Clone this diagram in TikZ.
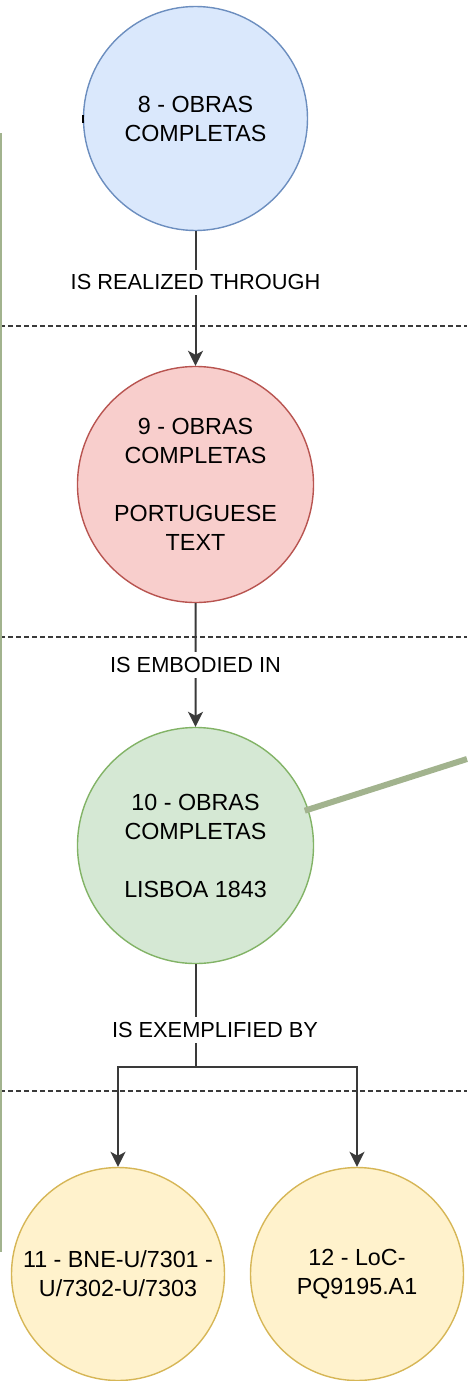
\documentclass[tikz,border=0pt]{standalone}
\usepackage{fontspec}
\setmainfont{Liberation Sans}
\usetikzlibrary{arrows.meta,trees}
\definecolor{workfill}{HTML}{DAE8FC}
\definecolor{workdraw}{HTML}{6C8EBF}
\definecolor{exprfill}{HTML}{F8CECC}
\definecolor{exprdraw}{HTML}{B85450}
\definecolor{manifill}{HTML}{D5E8D4}
\definecolor{manidraw}{HTML}{82B366}
\definecolor{itemfill}{HTML}{FFF2CC}
\definecolor{itemdraw}{HTML}{D6B656}
\definecolor{notegreen}{HTML}{A2B38E}
\definecolor{linegray}{HTML}{3A3A3A}
\begin{document}
\begin{tikzpicture}[x=1pt,y=-1pt,
				entity/.style={circle,draw,line width=1.4pt,inner sep=0pt,align=center,font=\fontsize{23.3}{29}\selectfont},
				lbl/.style={fill=white,inner xsep=2pt,inner ysep=5pt,font=\fontsize{21.8}{26}\selectfont},
				sepline/.style={draw=linegray,line width=1.2pt,dash pattern=on 5pt off 3pt},
				note/.style={draw=notegreen,line width=6pt},
				edge from parent/.style={draw,draw=linegray,line width=2pt,-{Stealth[length=15pt,width=15pt,inset=4pt]}},
				level 1/.style={level distance=366pt},
				level 2/.style={level distance=361pt},
				level 3/.style={grow via three points={one child at (0pt,-428.5pt) and two children at (-77.5pt,-428.5pt) and (161.5pt,-428.5pt)},
					edge from parent path={(\tikzparentnode.south) -- +(0pt,-102.5pt) -| (\tikzchildnode.north)}}
]
\useasboundingbox (0,0) rectangle (467,1381);
% level separators
\draw[sepline] (0,326) -- (467,326);
\draw[sepline] (0,637) -- (467,637);
\draw[sepline] (0,1091) -- (467,1091);
\node[entity,fill=workfill,draw=workdraw,minimum size=224pt] (c8) at (195.5,118.5) {8 - OBRAS\\COMPLETAS}
child { node[entity,fill=exprfill,draw=exprdraw,minimum size=236pt] (c9) {9 - OBRAS\\COMPLETAS\\[29pt]PORTUGUESE\\TEXT}
	child { node[entity,fill=manifill,draw=manidraw,minimum size=236pt] (c10) {10 - OBRAS\\COMPLETAS\\[29pt]LISBOA 1843}
		child { node[entity,fill=itemfill,draw=itemdraw,minimum size=213pt] (c11) {11 - BNE-U/7301 -\\U/7302-U/7303} }
		child { node[entity,fill=itemfill,draw=itemdraw,minimum size=213pt] (c12) {12 - LoC-\\PQ9195.A1} }
		edge from parent node[lbl,pos=0.5] {IS EMBODIED IN} }
	edge from parent node[lbl,pos=0.38] {IS REALIZED THROUGH} };
\node[lbl] (l10) at (215,1030) {IS EXEMPLIFIED BY};
% green note links
\coordinate (noteend) at (467,759);
\draw[note,shorten <=-4pt] (c10) -- (noteend);
\draw[note,line width=2.5pt] (1.2,133) -- (1.2,1252);
\draw[line width=2.5pt] ([yshift=-4pt]c8.west) -- ([yshift=4pt]c8.west);
\end{tikzpicture}
\end{document}
